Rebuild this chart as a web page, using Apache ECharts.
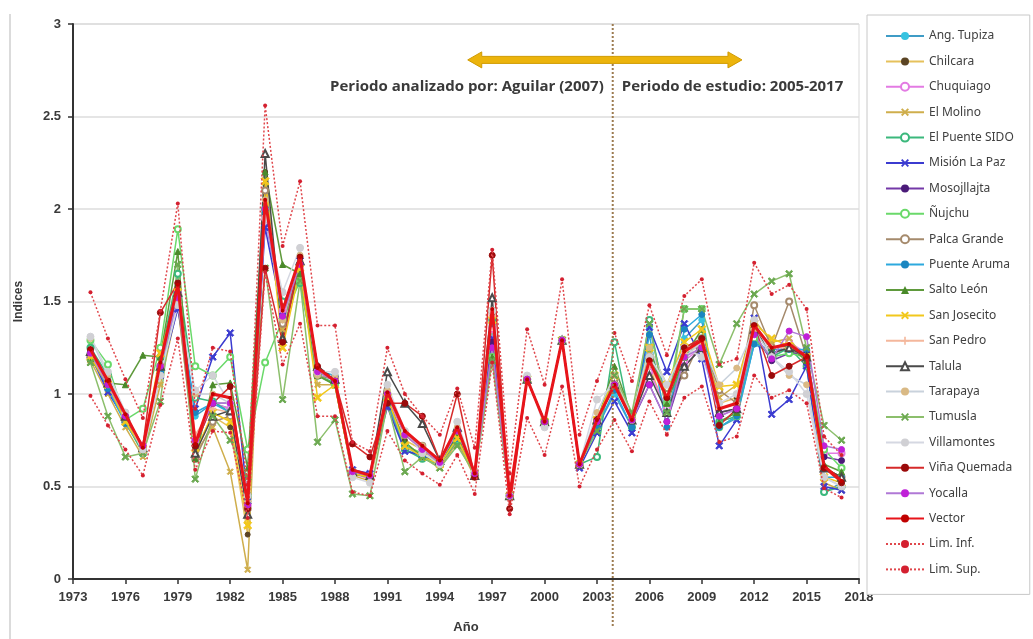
<!DOCTYPE html>
<html><head><meta charset="utf-8">
<script src="https://cdn.jsdelivr.net/npm/echarts@6/dist/echarts.min.js"></script>
<style>html,body{margin:0;padding:0;background:#fff}#c{width:1033px;height:639px}</style>
</head><body><div id="c"></div>
<script>
const years = [1974,1975,1976,1977,1978,1979,1980,1981,1982,1983,1984,1985,1986,1987,1988,1989,1990,1991,1992,1993,1994,1995,1996,1997,1998,1999,2000,2001,2002,2003,2004,2005,2006,2007,2008,2009,2010,2011,2012,2013,2014,2015,2016,2017];
const xTicks = [1973,1976,1979,1982,1985,1988,1991,1994,1997,2000,2003,2006,2009,2012,2015,2018];
const yTicks = [0,0.5,1,1.5,2,2.5,3];

const angTupiza   = [1.22,1.02,0.85,0.70,1.12,1.50,0.88,0.95,0.92,0.42,2.00,1.40,1.70,1.12,1.10,0.58,0.56,0.95,0.70,0.66,0.62,0.74,0.56,1.40,0.45,1.08,0.85,1.29,0.62,0.82,1.00,0.82,1.36,0.96,1.30,1.40,0.82,0.87,1.27,1.22,1.25,1.22,0.47,0.52];
const chilcara    = [1.20,1.05,0.85,0.68,1.20,1.58,0.70,0.88,0.82,0.24,2.20,1.30,1.70,1.10,1.08,0.57,0.55,0.98,0.75,0.70,0.62,0.76,0.56,1.42,0.45,1.08,0.85,1.29,0.62,0.84,1.08,0.85,1.15,0.90,1.20,1.28,0.95,0.98,1.35,1.22,1.25,1.18,0.60,0.55];
const chuquiago   = [1.20,1.05,0.88,0.72,1.15,1.55,0.75,0.95,0.92,0.40,1.95,1.45,1.70,1.12,1.08,0.57,0.54,0.98,0.78,0.70,0.63,0.80,0.56,1.35,0.45,1.08,0.85,1.29,0.62,0.85,1.05,0.86,1.12,0.92,1.18,1.25,0.88,0.92,1.30,1.20,1.28,1.22,0.68,0.68];
const elMolino    = [1.18,1.00,0.82,0.66,1.05,1.48,0.68,0.82,0.58,0.05,2.15,1.35,1.65,1.05,1.05,0.56,0.53,0.95,0.72,0.66,0.60,0.74,0.55,1.40,0.45,1.08,0.85,1.29,0.62,0.84,1.10,0.86,1.22,1.00,1.25,1.30,0.98,1.05,1.40,1.28,1.30,1.18,0.52,0.48];
const elPuente    = [1.25,1.10,0.85,0.68,1.20,1.65,0.98,0.96,0.90,0.45,2.00,1.50,1.60,1.10,1.06,0.58,0.55,0.97,0.70,0.65,0.62,0.75,0.58,1.40,0.45,1.08,0.85,1.29,0.62,0.66,1.28,0.82,1.40,0.90,1.20,1.30,0.85,0.88,1.30,1.20,1.25,1.15,0.47,0.50];
const misionLaPaz = [1.21,1.01,0.86,0.70,1.10,1.46,0.92,1.20,1.33,0.42,1.90,1.42,1.72,1.12,1.08,0.59,0.57,0.93,0.69,0.67,0.62,0.78,0.57,1.30,0.45,1.08,0.85,1.29,0.60,0.79,0.96,0.79,1.36,1.12,1.38,1.19,0.72,0.86,1.41,0.89,0.97,1.15,0.50,0.48];
const mosojllajta = [1.22,1.06,0.87,0.70,1.15,1.55,0.72,0.95,0.95,0.40,2.00,1.42,1.70,1.12,1.07,0.58,0.55,1.00,0.78,0.70,0.63,0.80,0.56,1.28,0.45,1.08,0.85,1.29,0.62,0.85,1.05,0.85,1.05,0.85,1.15,1.25,0.90,0.92,1.32,1.18,1.22,1.22,0.66,0.64];
const nujchu      = [1.29,1.16,0.86,0.92,1.25,1.89,1.15,1.10,1.20,0.70,1.17,1.40,1.61,1.10,1.05,0.57,0.55,0.97,0.72,0.68,0.62,0.76,0.57,1.20,0.45,1.08,0.85,1.29,0.62,0.85,1.10,0.88,1.25,0.95,1.46,1.46,0.82,0.88,1.30,1.20,1.22,1.20,0.70,0.60];
const palcaGrande = [1.20,1.04,0.86,0.70,1.15,1.50,0.65,0.85,0.88,0.38,2.10,1.38,1.70,1.10,1.08,0.58,0.55,1.00,0.78,0.72,0.63,0.80,0.56,1.45,0.45,1.08,0.85,1.29,0.62,0.86,1.08,0.86,1.20,1.00,1.10,1.30,1.02,0.95,1.48,1.25,1.50,1.20,0.60,0.55];
const puenteAruma = [1.22,1.03,0.84,0.70,1.12,1.52,0.90,0.95,0.90,0.42,1.98,1.42,1.70,1.12,1.10,0.58,0.56,0.96,0.72,0.66,0.62,0.76,0.56,1.38,0.45,1.08,0.85,1.29,0.62,0.82,1.02,0.82,1.32,0.82,1.35,1.43,0.82,0.88,1.27,1.24,1.24,1.24,0.55,0.55];
const saltoLeon   = [1.19,1.06,1.05,1.21,1.20,1.77,0.65,1.05,1.06,0.60,2.20,1.70,1.65,1.10,1.05,0.57,0.55,0.97,0.74,0.66,0.63,0.77,0.57,1.20,0.45,1.08,0.85,1.29,0.62,0.85,1.15,0.88,1.25,0.95,1.20,1.35,0.85,0.90,1.35,1.25,1.26,1.18,0.62,0.58];
const sanJosecito = [1.20,1.05,0.85,0.70,1.22,1.55,0.68,0.90,0.85,0.29,2.15,1.25,1.68,0.98,1.05,0.57,0.55,0.98,0.72,0.66,0.62,0.76,0.56,1.40,0.45,1.08,0.85,1.29,0.62,0.86,1.10,0.88,1.25,1.05,1.28,1.35,1.04,1.05,1.38,1.30,1.26,1.20,0.55,0.52];
const sanPedro    = [1.22,1.05,0.88,0.72,1.15,1.52,0.78,0.92,0.90,0.42,2.00,1.40,1.72,1.12,1.08,0.58,0.56,1.00,0.78,0.70,0.63,0.80,0.57,1.42,0.45,1.08,0.85,1.29,0.62,0.86,1.05,0.86,1.15,0.98,1.22,1.28,0.92,0.95,1.35,1.25,1.25,1.20,0.60,0.54];
const talula      = [1.23,1.06,0.88,0.71,1.15,1.55,0.68,0.88,0.91,0.35,2.30,1.30,1.72,1.15,1.08,0.58,0.56,1.12,0.95,0.84,0.64,0.82,0.56,1.52,0.45,1.08,0.85,1.29,0.62,0.86,1.05,0.86,1.10,0.90,1.15,1.25,0.90,0.92,1.35,1.22,1.25,1.20,0.60,0.55];
const tarapaya    = [1.30,1.10,0.90,0.68,1.10,1.50,1.00,1.00,0.95,0.40,2.05,1.40,1.75,1.10,1.10,0.58,0.56,1.02,0.80,0.72,0.63,0.82,0.57,1.45,0.45,1.08,0.85,1.29,0.62,0.90,1.10,0.88,1.25,1.05,1.20,1.28,1.05,1.14,1.35,1.20,1.10,1.05,0.55,0.50];
const tumusla     = [1.17,0.88,0.66,0.68,0.96,1.70,0.54,0.88,0.75,0.55,1.68,0.97,1.61,0.74,0.86,0.46,0.45,0.95,0.58,0.66,0.60,0.72,0.57,1.18,0.45,1.08,0.85,1.29,0.62,0.80,1.10,0.90,1.38,0.90,1.46,1.46,1.16,1.38,1.54,1.61,1.65,1.25,0.83,0.75];
const villamontes = [1.31,1.12,0.90,0.70,1.10,1.48,1.02,1.10,0.95,0.45,1.95,1.55,1.79,1.12,1.12,0.55,0.52,1.05,0.80,0.68,0.62,0.85,0.58,1.45,0.45,1.10,0.82,1.29,0.62,0.97,1.05,0.86,1.20,1.05,1.25,1.20,0.95,1.00,1.40,1.20,1.12,1.00,0.55,0.50];
const vinaQuemada = [1.24,1.07,0.88,0.72,1.44,1.60,0.72,0.95,1.04,0.38,1.68,1.28,1.74,1.15,1.07,0.73,0.66,0.95,0.95,0.88,0.64,1.00,0.55,1.75,0.38,1.08,0.85,1.29,0.62,0.86,1.05,0.86,1.18,0.98,1.25,1.30,0.83,0.92,1.37,1.10,1.15,1.20,0.60,0.52];
const yocalla     = [1.22,1.05,0.88,0.72,1.15,1.52,0.75,0.95,0.95,0.40,2.00,1.42,1.70,1.12,1.07,0.58,0.56,1.00,0.78,0.70,0.63,0.80,0.57,1.25,0.45,1.08,0.85,1.29,0.62,0.85,1.05,0.86,1.05,0.85,1.20,1.25,0.88,0.92,1.32,1.19,1.34,1.31,0.72,0.70];
const vector      = [1.24,1.07,0.89,0.71,1.17,1.59,0.73,1.00,0.98,0.41,2.05,1.45,1.74,1.14,1.07,0.59,0.56,1.01,0.80,0.72,0.64,0.82,0.57,1.46,0.45,1.08,0.85,1.29,0.62,0.86,1.05,0.86,1.18,0.98,1.23,1.29,0.92,0.95,1.37,1.25,1.27,1.20,0.61,0.53];
const limInf      = [0.99,0.83,0.70,0.56,0.94,1.30,0.59,0.80,0.79,0.33,1.66,1.16,1.38,0.88,0.88,0.47,0.45,0.80,0.64,0.57,0.51,0.67,0.46,1.17,0.35,0.87,0.67,1.04,0.50,0.70,0.86,0.69,0.96,0.78,0.98,1.04,0.74,0.77,1.10,0.98,1.02,0.95,0.49,0.44];
const limSup      = [1.55,1.30,1.08,0.87,1.45,2.03,0.92,1.25,1.23,0.51,2.56,1.80,2.15,1.37,1.37,0.74,0.69,1.25,1.00,0.88,0.78,1.03,0.71,1.78,0.57,1.35,1.05,1.62,0.78,1.07,1.33,1.07,1.48,1.21,1.53,1.62,1.16,1.19,1.71,1.54,1.59,1.46,0.77,0.67];

const X = 'path://M-3,-2L-2,-3L0,-1L2,-3L3,-2L1,0L3,2L2,3L0,1L-2,3L-3,2L-1,0Z';
const P = 'path://M-0.6,-3L0.6,-3L0.6,-0.6L3,-0.6L3,0.6L0.6,0.6L0.6,3L-0.6,3L-0.6,0.6L-3,0.6L-3,-0.6L-0.6,-0.6Z';
const stations = [
  ['Ang. Tupiza', angTupiza, '#3f9cc6', 'circle', '#36c3e0', 6],
  ['Chilcara', chilcara, '#e6c15c', 'circle', '#5b4424', 5],
  ['Chuquiago', chuquiago, '#e37be3', 'emptyCircle', '#e37be3', 6],
  ['El Molino', elMolino, '#cfae4c', X, '#cfae4c', 6],
  ['El Puente SIDO', elPuente, '#3bb87c', 'emptyCircle', '#3bb87c', 6],
  ['Misión La Paz', misionLaPaz, '#3b3bd0', X, '#3b3bd0', 7],
  ['Mosojllajta', mosojllajta, '#7438a8', 'circle', '#4a1a78', 6],
  ['Ñujchu', nujchu, '#6ad96a', 'emptyCircle', '#6ad96a', 6],
  ['Palca Grande', palcaGrande, '#a58a6c', 'emptyCircle', '#a58a6c', 6],
  ['Puente Aruma', puenteAruma, '#2da9de', 'circle', '#1a86c0', 6],
  ['Salto León', saltoLeon, '#5f9a3c', 'triangle', '#4a8a2a', 6],
  ['San Josecito', sanJosecito, '#f2c81c', X, '#f2c81c', 8],
  ['San Pedro', sanPedro, '#f4b79c', P, '#f4b79c', 6],
  ['Talula', talula, '#4a4a4a', 'emptyTriangle', '#4a4a4a', 7],
  ['Tarapaya', tarapaya, '#c9d2dc', 'circle', '#d9b985', 6],
  ['Tumusla', tumusla, '#8cbf6c', X, '#6aa84f', 7],
  ['Villamontes', villamontes, '#d5d8e2', 'circle', '#d0d0d4', 7],
  ['Viña Quemada', vinaQuemada, '#d62a2a', 'circle', '#9a0a0a', 6],
  ['Yocalla', yocalla, '#b078d6', 'circle', '#c020d8', 6]
];

const series = stations.map(s => ({
  name: s[0], type: 'line', data: years.map((y,i)=>[y, s[1][i]]),
  lineStyle: {color: s[2], width: 1.5}, itemStyle: {color: s[4], borderColor: s[4]},
  symbol: s[3], symbolSize: s[5], showSymbol: true, z: 2, animation: false
}));
series.push({name:'Vector', type:'line', data: years.map((y,i)=>[y, vector[i]]),
  lineStyle:{color:'#e8141a', width:3}, itemStyle:{color:'#c00000'}, symbol:'circle', symbolSize:4, z:5, animation:false});
series.push({name:'Lim. Inf.', type:'line', data: years.map((y,i)=>[y, limInf[i]]),
  lineStyle:{color:'#e0474c', width:1.5, type:[2,2]}, itemStyle:{color:'#d42030'}, symbol:'circle', symbolSize:4, z:4, animation:false});
series.push({name:'Lim. Sup.', type:'line', data: years.map((y,i)=>[y, limSup[i]]),
  lineStyle:{color:'#e0474c', width:1.5, type:[2,2]}, itemStyle:{color:'#d42030'}, symbol:'circle', symbolSize:4, z:4, animation:false});

const chart = echarts.init(document.getElementById('c'), null, {renderer:'canvas'});
const labelFont = {color:'#3a3a3a', fontSize:13, fontWeight:'bold', fontFamily:'Liberation Sans'};
chart.setOption({
  backgroundColor:'#fff',
  animation:false,
  grid:{left:73, right:174, top:24, bottom:57, show:true, borderColor:'#d9d9d9', borderWidth:1},
  xAxis:{type:'value', min:xTicks[0], max:xTicks[xTicks.length-1], interval:3,
    name:'Año', nameLocation:'middle', nameGap:42, nameTextStyle:labelFont,
    axisLine:{lineStyle:{color:'#333', width:2}}, axisTick:{show:true, length:5, lineStyle:{color:'#333', width:1.5}},
    axisLabel:Object.assign({margin:12, formatter: v => String(v)}, labelFont), splitLine:{show:false}},
  yAxis:{type:'value', min:yTicks[0], max:yTicks[yTicks.length-1], interval:0.5,
    name:'Indices', nameLocation:'middle', nameGap:48, nameTextStyle:Object.assign({}, labelFont, {fontSize:12}),
    axisLine:{show:true, lineStyle:{color:'#333', width:2}}, axisTick:{show:true, length:5, lineStyle:{color:'#333', width:1.5}},
    axisLabel:Object.assign({margin:12}, labelFont), splitLine:{lineStyle:{color:'#dcdcdc', width:1.5}}},
  legend:{orient:'vertical', left:867, top:15, itemWidth:38, itemHeight:10, itemGap:11.4,
    padding:[14, 16, 18, 18], borderColor:'#c8c8c8', borderWidth:1, backgroundColor:'#fff', z:1,
    textStyle:{color:'#404040', fontSize:12, fontFamily:'Noto Sans', lineHeight:14},
    data: series.map(s=>s.name)},
  series: series
});

// Annotations positioned through the axes
const px = (x,y) => chart.convertToPixel({gridIndex:0}, [x,y]);
const divX = 2003.9;
const pTop = px(divX, 3), pBot = px(divX, 0);
const aL = px(1995.6, 2.806), aR = px(2011.3, 2.806);
const tY = px(divX, 2.66)[1];
const ax1 = aL[0], ax2 = aR[0], ay = aL[1];
chart.setOption({graphic:[
  {type:'line', shape:{x1:10, y1:14, x2:10, y2:639}, style:{stroke:'#cfcfcf', lineWidth:1.5}, z:0},
  {type:'line', shape:{x1:pTop[0], y1:pTop[1], x2:pBot[0], y2:pBot[1]+48}, style:{stroke:'#9c7b50', lineWidth:2, lineDash:[2,2]}, z:10},
  {type:'polygon', shape:{points:[[ax1,ay],[ax1+14,ay-8],[ax1+14,ay-3.5],[ax2-14,ay-3.5],[ax2-14,ay-8],[ax2,ay],[ax2-14,ay+8],[ax2-14,ay+3.5],[ax1+14,ay+3.5],[ax1+14,ay+8]]},
    style:{fill:'#ecb40c', stroke:'#d09a00', lineWidth:1}, z:11},
  {type:'text', x:pTop[0]-9, y:tY, style:{text:'Periodo analizado por: Aguilar (2007)', fill:'#3a3a3a', font:'bold 15px "Open Sans"', textAlign:'right', textVerticalAlign:'middle'}, z:11},
  {type:'text', x:pTop[0]+9, y:tY, style:{text:'Periodo de estudio: 2005-2017', fill:'#3a3a3a', font:'bold 15px "Open Sans"', textAlign:'left', textVerticalAlign:'middle'}, z:11}
]});
</script>
</body></html>
